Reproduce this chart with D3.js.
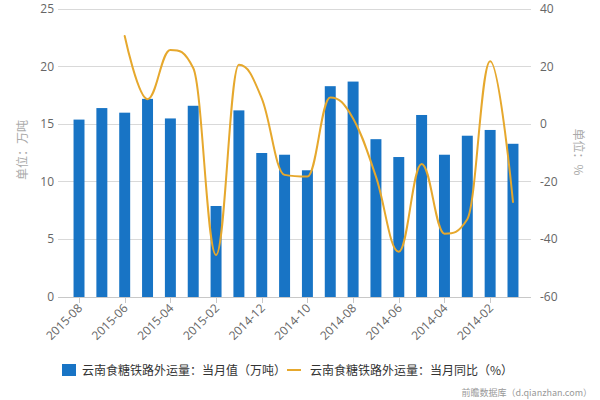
<!DOCTYPE html>
<html><head><meta charset="utf-8">
<script src="https://cdn.jsdelivr.net/npm/d3@7/dist/d3.min.js"></script>
<style>body{margin:0;background:#fff}svg{display:block}</style>
</head><body>
<svg id="c" width="600" height="400"></svg>
<script>
const months = ['2015-08','2015-07','2015-06','2015-05','2015-04','2015-03','2015-02','2015-01','2014-12','2014-11','2014-10','2014-09','2014-08','2014-07','2014-06','2014-05','2014-04','2014-03','2014-02','2014-01'];
const monthValue = [15.4,16.4,16.0,17.2,15.5,16.6,7.9,16.2,12.5,12.35,11.0,18.3,18.7,13.7,12.15,15.8,12.35,14.0,14.5,13.3];
const yoyValue = [null,null,30.6,8.7,25.8,19.5,-45.4,20.6,9,-17.6,-18.2,9.3,2,-18.2,-44.3,-13.8,-38,-33,21.9,-27];
const leftTicks = [0,5,10,15,20,25];
const rightTicks = [-60,-40,-20,0,20,40];
const seriesNames = ['云南食糖铁路外运量：当月值（万吨）','云南食糖铁路外运量：当月同比（%）'];

const svg = d3.select('#c');
const font = "'Open Sans','DejaVu Sans',sans-serif";
const cjk = "'Noto Sans CJK SC',sans-serif";
const plotL = 58, plotR = 531, plotT = 9, plotB = 297;

const x = d3.scaleBand().domain(months).range([67.6, 524.4]).paddingInner(0.52).paddingOuter(0.26);
const y = d3.scaleLinear().domain([0,25]).range([plotB, plotT]);
const y2 = d3.scaleLinear().domain([-60,40]).range([plotB, plotT]);
const cx = d => x(d) + x.bandwidth()/2;

// gridlines
svg.append('g').selectAll('line').data(leftTicks.filter(t=>t>0)).join('line')
  .attr('x1', plotL).attr('x2', plotR).attr('y1', d=>y(d)).attr('y2', d=>y(d))
  .attr('stroke', '#d9d9d9').attr('stroke-width', 1).attr('shape-rendering','crispEdges');

// left axis labels
svg.append('g').selectAll('text').data(leftTicks).join('text')
  .attr('x', 54).attr('y', d=>y(d)+4).attr('text-anchor','end')
  .attr('font-family', font).attr('font-size', 12).attr('fill', '#666').text(d=>d);
// right axis labels
svg.append('g').selectAll('text').data(rightTicks).join('text')
  .attr('x', 540).attr('y', d=>y2(d)+4).attr('text-anchor','start')
  .attr('font-family', font).attr('font-size', 12).attr('fill', '#666').text(d=>d);

// axis titles
svg.append('text').attr('transform','translate(27,150) rotate(-90)').attr('text-anchor','middle')
  .attr('font-family', cjk).attr('font-size', 12).attr('fill','#aaa').text('单位：万吨');
svg.append('text').attr('transform','translate(574,152) rotate(90)').attr('text-anchor','middle')
  .attr('font-family', cjk).attr('font-size', 12).attr('fill','#aaa').text('单位：%');

// bars
svg.append('g').selectAll('rect').data(months).join('rect')
  .attr('x', d=>x(d)).attr('width', x.bandwidth())
  .attr('y', (d,i)=>y(monthValue[i])).attr('height', (d,i)=>y(0)-y(monthValue[i]))
  .attr('fill', '#1874c5');

// x axis
svg.append('line').attr('x1', plotL).attr('x2', plotR).attr('y1', plotB+0.5).attr('y2', plotB+0.5)
  .attr('stroke', '#c8c8c8');
const tickMonths = months.filter((d,i)=>i%2===0);
svg.append('g').selectAll('line').data(tickMonths).join('line')
  .attr('x1', d=>Math.round(cx(d))+0.5).attr('x2', d=>Math.round(cx(d))+0.5)
  .attr('y1', plotB).attr('y2', plotB+6).attr('stroke','#c8c8c8');
svg.append('g').selectAll('text').data(tickMonths).join('text')
  .attr('transform', d=>`translate(${cx(d)+4},${plotB+12}) rotate(-45)`)
  .attr('text-anchor','end').attr('font-family', font).attr('font-size', 12).attr('fill','#666')
  .text(d=>d);

// Highcharts-like spline curve
function HCSpline(ctx){ this._context = ctx; }
HCSpline.prototype = {
  areaStart(){}, areaEnd(){},
  lineStart(){ this._pts = []; },
  point(px,py){ this._pts.push([+px,+py]); },
  lineEnd(){
    const p = this._pts, c = this._context, s = 1.5, dn = s + 1;
    let rc = null;
    p.forEach((pt,i)=>{
      const [px,py] = pt, last = p[i-1], next = p[i+1];
      let lcx = px, lcy = py, nrc = null;
      if (last && next){
        lcx = (s*px+last[0])/dn; lcy = (s*py+last[1])/dn;
        let rcx = (s*px+next[0])/dn, rcy = (s*py+next[1])/dn;
        const corr = ((rcy-lcy)*(rcx-px))/(rcx-lcx) + py - rcy;
        lcy += corr; rcy += corr;
        if (lcy>last[1] && lcy>py){ lcy = Math.max(last[1],py); rcy = 2*py-lcy; }
        else if (lcy<last[1] && lcy<py){ lcy = Math.min(last[1],py); rcy = 2*py-lcy; }
        if (rcy>next[1] && rcy>py){ rcy = Math.max(next[1],py); lcy = 2*py-rcy; }
        else if (rcy<next[1] && rcy<py){ rcy = Math.min(next[1],py); lcy = 2*py-rcy; }
        nrc = [rcx, rcy];
      }
      if (i===0) c.moveTo(px,py);
      else c.bezierCurveTo(rc?rc[0]:last[0], rc?rc[1]:last[1], lcx, lcy, px, py);
      rc = nrc;
    });
  }
};
const curveHC = ctx => new HCSpline(ctx);

const line = d3.line().defined(d=>d.v!=null).x(d=>cx(d.m)).y(d=>y2(d.v)).curve(curveHC);
svg.append('path').datum(months.map((m,i)=>({m, v: yoyValue[i]})))
  .attr('d', line).attr('fill','none').attr('stroke','#e6a82d').attr('stroke-width',2)
  .attr('stroke-linejoin','round').attr('stroke-linecap','round');

// legend
const lg = svg.append('g');
lg.append('rect').attr('x',62).attr('y',364).attr('width',14).attr('height',12).attr('fill','#1874c5');
lg.append('text').attr('x',82).attr('y',375).attr('font-family',cjk).attr('font-size',12).attr('fill','#333').text(seriesNames[0]);
lg.append('line').attr('x1',287).attr('x2',301).attr('y1',370).attr('y2',370).attr('stroke','#e6a82d').attr('stroke-width',2);
lg.append('text').attr('x',310).attr('y',375).attr('font-family',cjk).attr('font-size',12).attr('fill','#333').text(seriesNames[1]);

// watermark
svg.append('text').attr('x',592).attr('y',396).attr('text-anchor','end').attr('font-family',cjk)
  .attr('font-size',9).attr('fill','#999').text('前瞻数据库（d.qianzhan.com）');
</script>
</body></html>
